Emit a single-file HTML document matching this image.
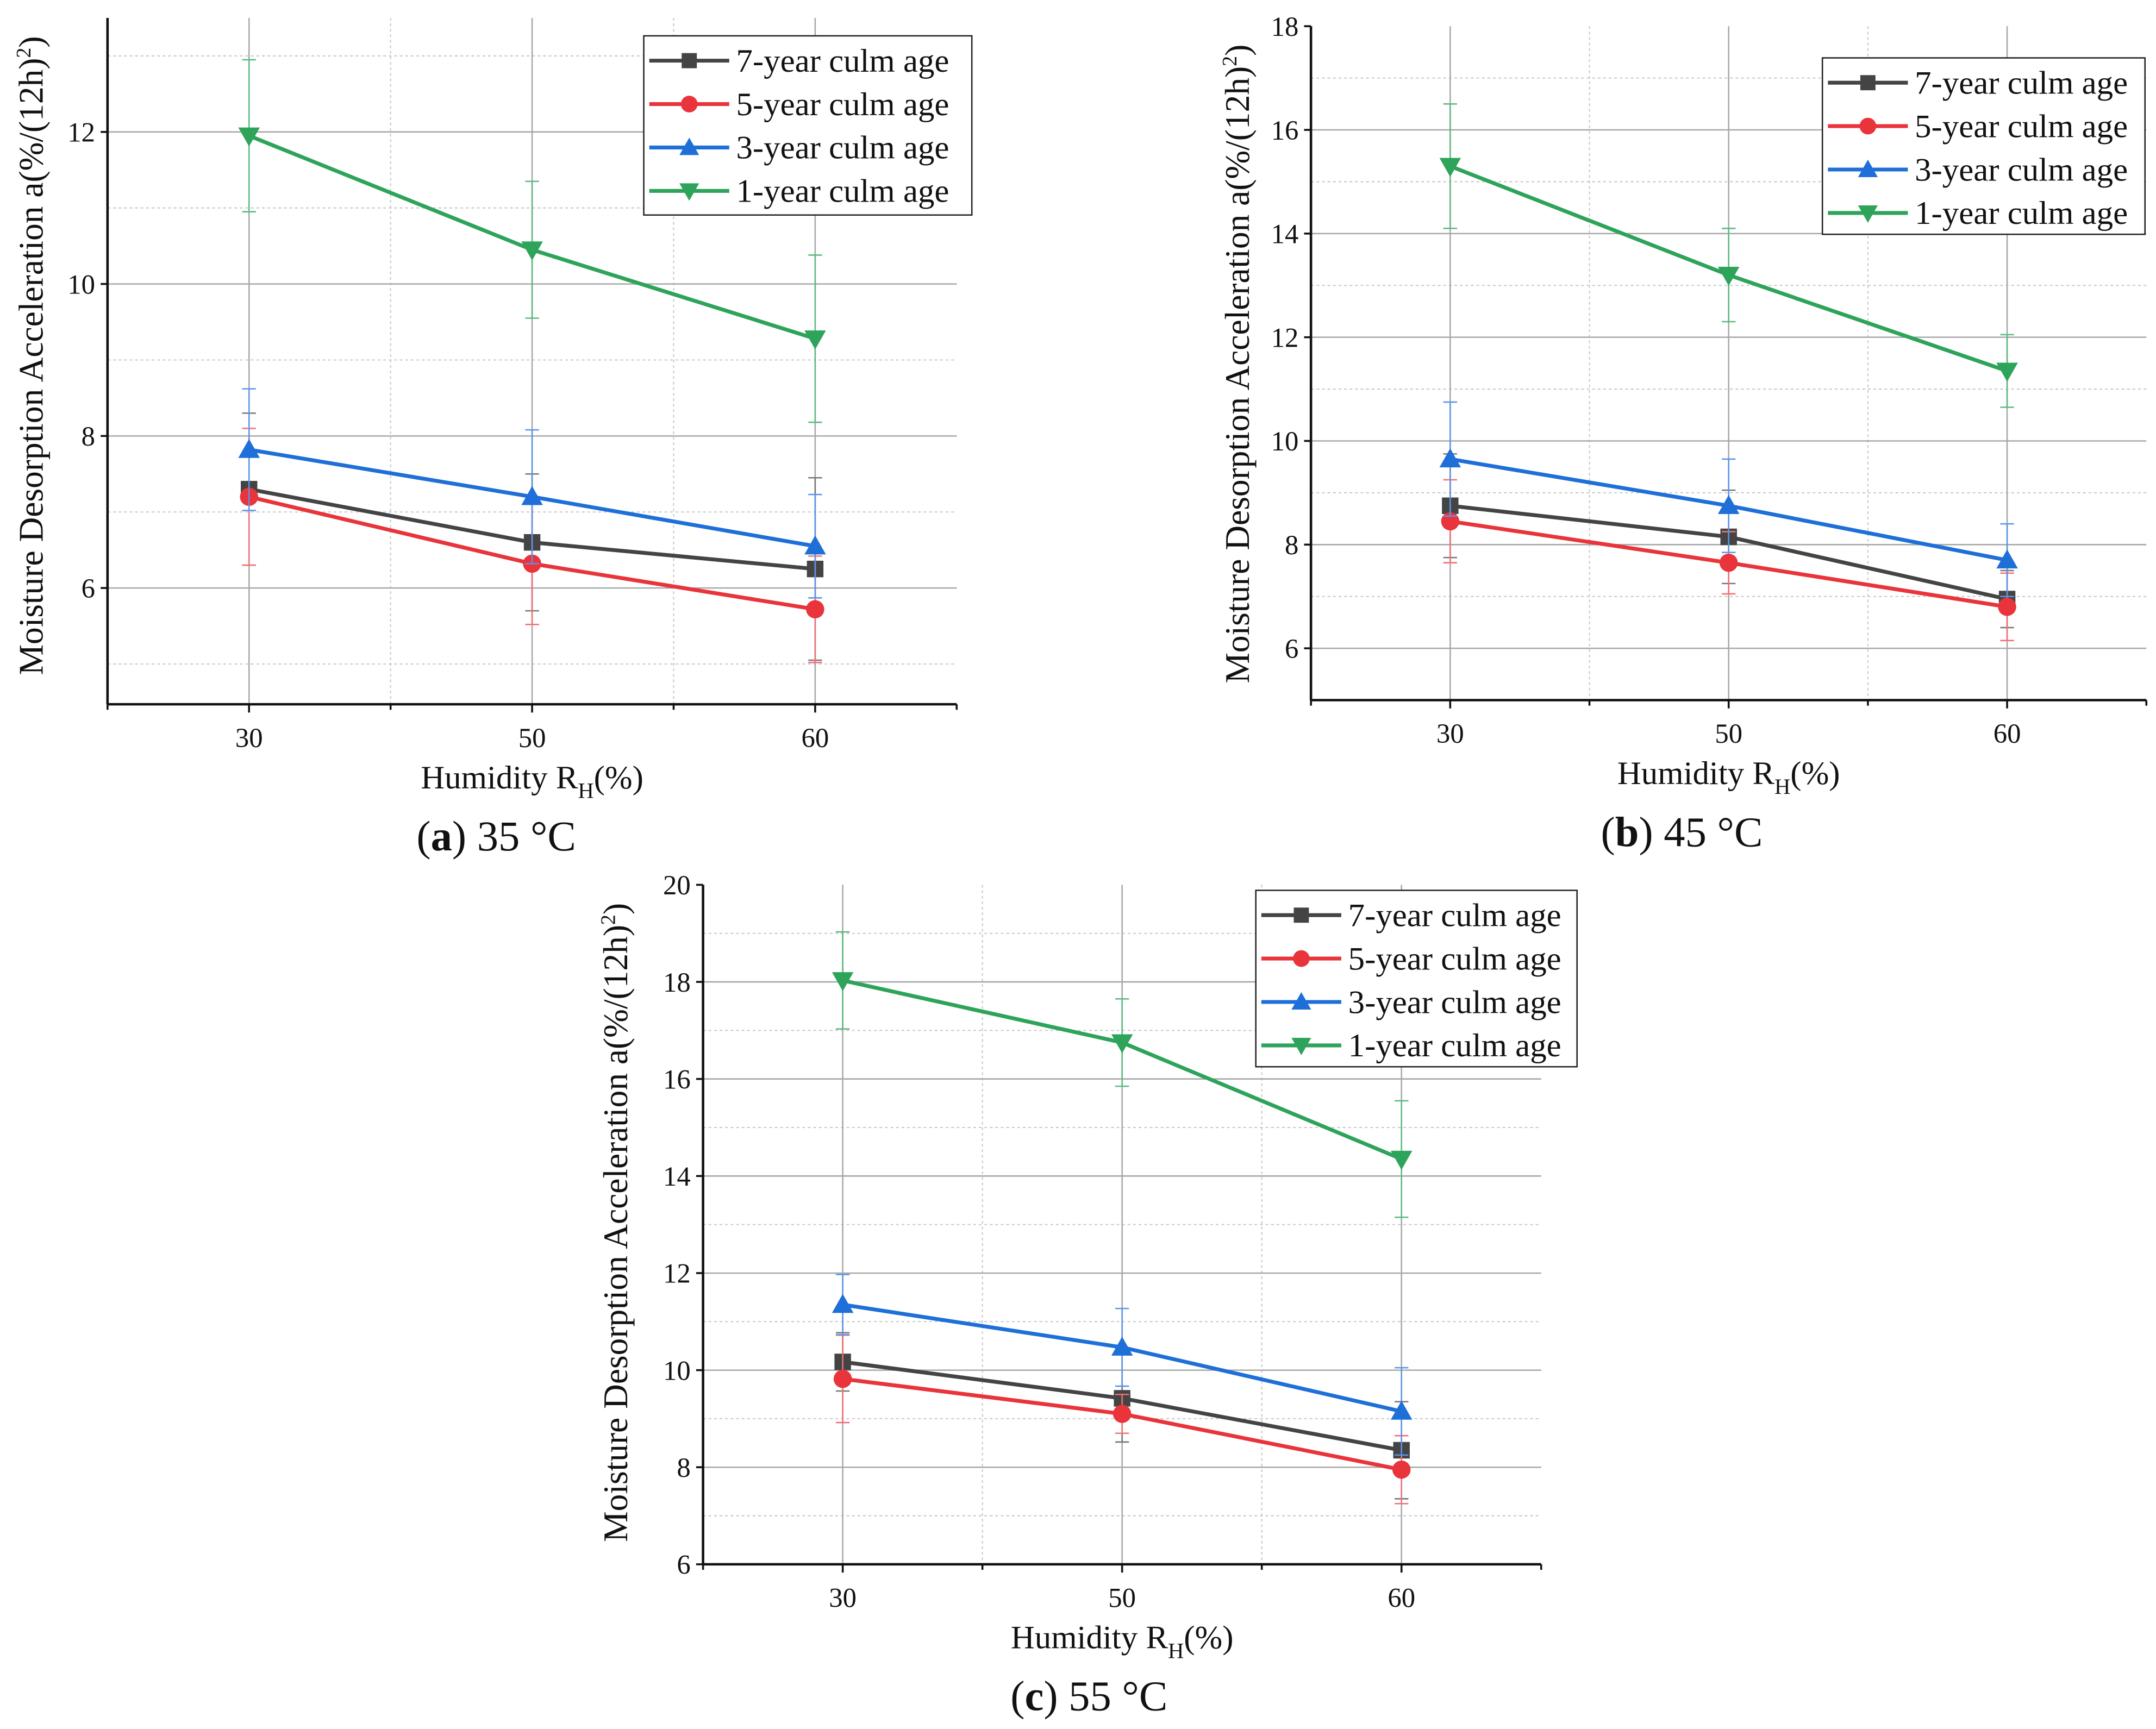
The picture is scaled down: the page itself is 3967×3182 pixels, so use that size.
<!DOCTYPE html>
<html><head><meta charset="utf-8">
<style>
html,body{margin:0;padding:0;background:#fff}
svg{display:block}
svg text{font-family:"Liberation Serif","Times New Roman","DejaVu Serif",serif !important;fill:#111}
</style></head>
<body>
<svg id="fig" width="3967" height="3182" viewBox="0 0 1564 1254.5" font-family="'Liberation Serif', 'DejaVu Serif', serif" xmlns="http://www.w3.org/2000/svg"></svg>
<script>
const categories = ["30","50","60"];
const seriesNames = ["7-year culm age","5-year culm age","3-year culm age","1-year culm age"];
// panel a (35 C)
const a7 = [7.3, 6.6, 6.25];   const a7e = [1.0, 0.9, 1.2];
const a5 = [7.2, 6.32, 5.72];  const a5e = [0.9, 0.8, 0.7];
const a3 = [7.82, 7.2, 6.55];  const a3e = [0.8, 0.88, 0.68];
const a1 = [11.95, 10.45, 9.28]; const a1e = [1.0, 0.9, 1.1];
// panel b (45 C)
const b7 = [8.75, 8.15, 6.95]; const b7e = [1.0, 0.9, 0.55];
const b5 = [8.45, 7.65, 6.8];  const b5e = [0.8, 0.6, 0.65];
const b3 = [9.65, 8.75, 7.7];  const b3e = [1.1, 0.9, 0.7];
const b1 = [15.3, 13.2, 11.35]; const b1e = [1.2, 0.9, 0.7];
// panel c (55 C)
const c7 = [10.17, 9.42, 8.35]; const c7e = [0.6, 0.9, 1.0];
const c5 = [9.82, 9.1, 7.95];   const c5e = [0.9, 0.4, 0.7];
const c3 = [11.35, 10.47, 9.15]; const c3e = [0.62, 0.8, 0.9];
const c1 = [18.03, 16.75, 14.35]; const c1e = [1.0, 0.9, 1.2];
const aTicks = [6, 8, 10, 12]; const bTicks = [6, 8, 10, 12, 14, 16, 18]; const cTicks = [6, 8, 10, 12, 14, 16, 18, 20];

const NS = "http://www.w3.org/2000/svg";
const svg = document.getElementById("fig");
function mk(tag, attrs, parent, txt){
  const e = document.createElementNS(NS, tag);
  for (const k in attrs) e.setAttribute(k, attrs[k]);
  if (tag === "text") e.setAttribute("font-family", "'Liberation Serif', 'DejaVu Serif', serif");
  if (txt !== undefined) e.textContent = txt;
  (parent || svg).appendChild(e);
  return e;
}
const colors = ["#444444","#e8343a","#1f6fd8","#2ea35a"];
const errColors = ["#777777","#f07075","#5a95ea","#5cbb80"];
const shapes = ["square","circle","tri","tridown"];

function marker(g, shape, x, y, c, s){
  let m;
  if (shape === "square") m = mk("rect", {x:x-s, y:y-s, width:2*s, height:2*s, fill:c}, g);
  else if (shape === "circle") m = mk("circle", {cx:x, cy:y, r:s*1.1, fill:c}, g);
  else if (shape === "tri") m = mk("polygon", {points:`${x},${y-s*1.3} ${x-s*1.3},${y+s} ${x+s*1.3},${y+s}`, fill:c}, g);
  else m = mk("polygon", {points:`${x},${y+s*1.3} ${x-s*1.3},${y-s} ${x+s*1.3},${y-s}`, fill:c}, g);
  return m;
}

function panel(cfg){
  const g = mk("g", {});
  
  
  const {x0, x1, yTop, yBot, vMin, vMax} = cfg;
  const step = (x1 - x0) / 3;
  const X = i => x0 + (i + 0.5) * step;
  const Y = v => yBot - (v - vMin) / (vMax - vMin) * (yBot - yTop);
  for (let i = 0; i < 2; i++) {
    const gx = x0 + (i + 1) * step;
    mk("line", {x1:gx, x2:gx, y1:yTop, y2:yBot, stroke:"#c8c8c8", "stroke-width":0.8, "stroke-dasharray":"2,2"}, g);
  }
  cfg.ticks.forEach(t => {
    const m = t + 1;
    if (m < vMax && m > vMin) mk("line", {x1:x0, x2:x1, y1:Y(m), y2:Y(m), stroke:"#c8c8c8", "stroke-width":0.8, "stroke-dasharray":"2,2"}, g);
    if (t - 1 > vMin && cfg.ticks.indexOf(t - 2) < 0) mk("line", {x1:x0, x2:x1, y1:Y(t-1), y2:Y(t-1), stroke:"#c8c8c8", "stroke-width":0.8, "stroke-dasharray":"2,2"}, g);
  });
  cfg.ticks.forEach(t => {
    if (t > vMin && t < vMax) mk("line", {x1:x0, x2:x1, y1:Y(t), y2:Y(t), stroke:"#a8a8a8", "stroke-width":1}, g);
  });
  categories.forEach((c, i) => {
    mk("line", {x1:X(i), x2:X(i), y1:yTop, y2:yBot, stroke:"#a8a8a8", "stroke-width":1}, g);
  });
  const ax = mk("line", {x1:x0, x2:x0, y1:yTop, y2:yBot, stroke:"#111", "stroke-width":1.8}, g);
  
  
  const axx = mk("line", {x1:x0, x2:x1, y1:yBot, y2:yBot, stroke:"#111", "stroke-width":1.8}, g);
  
  
  for (let i = 0; i <= 6; i++) {
    const tx = x0 + i * step / 2;
    mk("line", {x1:tx, x2:tx, y1:yBot, y2:yBot + (i % 2 ? 6 : 4), stroke:"#111", "stroke-width":1.4}, g);
  }
  cfg.ticks.forEach(t => {
    mk("line", {x1:x0 - 5, x2:x0, y1:Y(t), y2:Y(t), stroke:"#111", "stroke-width":1.4}, g);
    const lb = mk("text", {x:x0 - 9, y:Y(t) + 7, "text-anchor":"end", "font-size":20}, g, String(t));
    
    
  });
  categories.forEach((c, i) => {
    const lb = mk("text", {x:X(i), y:yBot + 31, "text-anchor":"middle", "font-size":20}, g, c);
    
    
  });
  cfg.series.forEach((s, k) => {
    const sg = mk("g", {}, g);
    
    
    s.v.forEach((v, i) => {
      const e = s.e[i];
      mk("line", {x1:X(i), x2:X(i), y1:Y(v + e), y2:Y(v - e), stroke:errColors[k], "stroke-width":1}, sg);
      mk("line", {x1:X(i) - 5, x2:X(i) + 5, y1:Y(v + e), y2:Y(v + e), stroke:errColors[k], "stroke-width":1}, sg);
      mk("line", {x1:X(i) - 5, x2:X(i) + 5, y1:Y(v - e), y2:Y(v - e), stroke:errColors[k], "stroke-width":1}, sg);
    });
    const pts = s.v.map((v, i) => X(i) + "," + Y(v)).join(" ");
    const pl = mk("polyline", {points:pts, fill:"none", stroke:colors[k], "stroke-width":2.8}, sg);
    
    
    s.v.forEach((v, i) => {
      const m = marker(sg, shapes[k], X(i), Y(v), colors[k], 6);
      
      
    });
  });
  const L = cfg.legend;
  const lg = mk("g", {}, g);
  
  
  mk("rect", {x:L.x, y:L.y, width:L.w, height:L.h, fill:"#fff", stroke:"#222", "stroke-width":1}, lg);
  seriesNames.forEach((n, k) => {
    const ly = L.y + 18 + k * 31.5;
    const e = mk("g", {}, lg);
    
    
    mk("line", {x1:L.x + 4, x2:L.x + 62, y1:ly, y2:ly, stroke:colors[k], "stroke-width":2.8}, e);
    marker(e, shapes[k], L.x + 33, ly, colors[k], 5.5);
    mk("text", {x:L.x + 67, y:ly + 8, "font-size":24}, e, n);
  });
  const yt = mk("text", {x:0, y:0, "text-anchor":"middle", "font-size":25, transform:`translate(${cfg.ytx},${cfg.ytc}) rotate(-90)`}, g);
  
  
  yt.innerHTML = 'Moisture Desorption Acceleration a(%/(12h)<tspan dy="-9" font-size="15">2</tspan><tspan dy="9">)</tspan>';
  const xt = mk("text", {x:(x0 + x1) / 2, y:yBot + 61, "text-anchor":"middle", "font-size":24}, g);
  
  
  xt.innerHTML = 'Humidity R<tspan dy="7" font-size="16">H</tspan><tspan dy="-7">(%)</tspan>';
  const cp = mk("text", {x:cfg.capx, y:yBot + 106, "text-anchor":"middle", "font-size":31}, g);
  
  
  cp.innerHTML = '(<tspan font-weight="bold">' + cfg.letter + '</tspan>) ' + cfg.temp + ' °C';
}

panel({name:"panel-a-35c", x0:78, x1:694, yTop:13, yBot:511, vMin:4.47, vMax:13.5, ticks:aTicks,
  series:[{v:a7,e:a7e},{v:a5,e:a5e},{v:a3,e:a3e},{v:a1,e:a1e}],
  legend:{x:467, y:26, w:238, h:130}, ytx:31, ytc:258, capx:360, letter:"a", temp:"35"});
panel({name:"panel-b-45c", x0:951, x1:1557, yTop:19, yBot:508, vMin:5, vMax:18, ticks:bTicks,
  series:[{v:b7,e:b7e},{v:b5,e:b5e},{v:b3,e:b3e},{v:b1,e:b1e}],
  legend:{x:1322, y:42, w:234, h:128}, ytx:906, ytc:264, capx:1220, letter:"b", temp:"45"});
panel({name:"panel-c-55c", x0:510, x1:1118, yTop:642, yBot:1135, vMin:6, vMax:20, ticks:cTicks,
  series:[{v:c7,e:c7e},{v:c5,e:c5e},{v:c3,e:c3e},{v:c1,e:c1e}],
  legend:{x:911, y:646, w:233, h:128}, ytx:455, ytc:887, capx:790, letter:"c", temp:"55"});
</script>
</body></html>
